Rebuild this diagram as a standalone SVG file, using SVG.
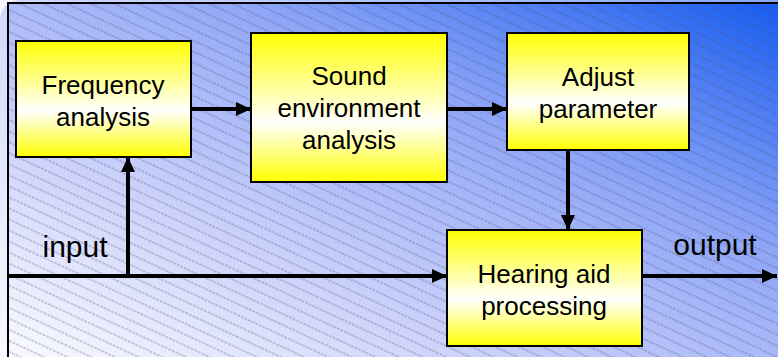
<svg xmlns="http://www.w3.org/2000/svg" width="778" height="357" viewBox="0 0 778 357">
<defs>
<linearGradient id="bg" x1="0" y1="1" x2="1" y2="0">
<stop offset="0" stop-color="#ffffff"/>
<stop offset="0.35" stop-color="#c8cffa"/>
<stop offset="0.65" stop-color="#8fa6f7"/>
<stop offset="1" stop-color="#1058f0"/>
</linearGradient>
<linearGradient id="box" x1="0" y1="0" x2="0" y2="1">
<stop offset="0" stop-color="#ffff00"/>
<stop offset="0.6" stop-color="#ffffff"/>
<stop offset="1" stop-color="#ffff00"/>
</linearGradient>
<pattern id="hatch" patternUnits="userSpaceOnUse" width="60" height="10" patternTransform="rotate(25)">
<line x1="0" y1="5" x2="60" y2="5" stroke="#4a4a70" stroke-width="1" stroke-dasharray="3 1" stroke-opacity="0.5"/>
</pattern>
<marker id="arr" markerUnits="userSpaceOnUse" markerWidth="16" markerHeight="14" refX="15" refY="7" orient="auto">
<path d="M0,0 L15,7 L0,14 Z" fill="#000"/>
</marker>
<style>
.node rect{fill:url(#box);stroke:#000;stroke-width:2}
.node text,.lbl{font-family:"Liberation Sans",Arial,sans-serif;fill:#000;text-anchor:middle}
.node text{font-size:26px}
.lbl{font-size:30px}
.conn line{stroke:#000;stroke-width:4;fill:none}
</style>
</defs>
<rect x="0" y="0" width="778" height="357" fill="#f4f5ff"/>
<rect x="0" y="0" width="800" height="380" rx="20" fill="url(#bg)" opacity="0.5"/>
<rect x="8" y="3" width="800" height="380" fill="url(#bg)"/>
<rect x="8" y="3" width="800" height="380" fill="url(#hatch)"/>
<rect x="8" y="3" width="800" height="380" fill="none" stroke="#000" stroke-width="2"/>
<g class="conn">
<line x1="191" y1="109" x2="251" y2="109" marker-end="url(#arr)"/>
<line x1="447" y1="109" x2="507" y2="109" marker-end="url(#arr)"/>
<line x1="568" y1="150" x2="568" y2="230" marker-end="url(#arr)"/>
<line x1="8" y1="276" x2="447" y2="276" marker-end="url(#arr)"/>
<line x1="128" y1="276" x2="128" y2="157" marker-end="url(#arr)"/>
<line x1="642" y1="276" x2="777" y2="276" marker-end="url(#arr)"/>
</g>
<g id="freq" class="node">
<rect x="16" y="41" width="175" height="116"/>
<text x="103" y="94">Frequency</text>
<text x="103" y="126">analysis</text>
</g>
<g id="sound" class="node">
<rect x="251" y="33" width="196" height="149"/>
<text x="349" y="85">Sound</text>
<text x="349" y="117">environment</text>
<text x="349" y="149">analysis</text>
</g>
<g id="adjust" class="node">
<rect x="507" y="33" width="182" height="117"/>
<text x="598" y="86">Adjust</text>
<text x="598" y="118">parameter</text>
</g>
<g id="hearing" class="node">
<rect x="447" y="230" width="195" height="116"/>
<text x="544" y="283">Hearing aid</text>
<text x="544" y="315">processing</text>
</g>
<text class="lbl" x="75" y="257">input</text>
<text class="lbl" x="715" y="255">output</text>
</svg>
